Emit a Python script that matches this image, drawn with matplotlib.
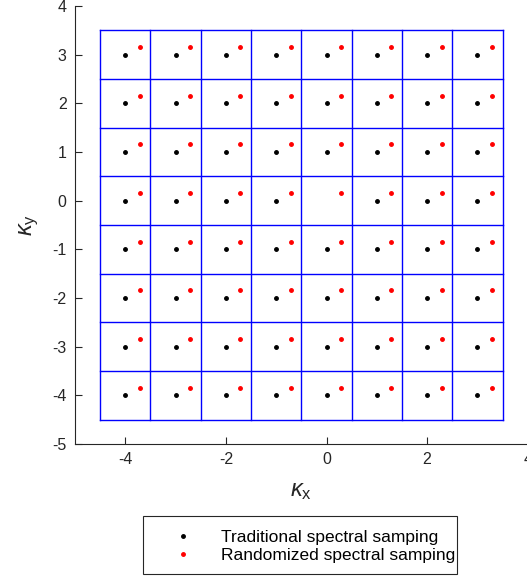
import numpy as np
import matplotlib
matplotlib.use("Agg")
import matplotlib.pyplot as plt
from matplotlib.patches import Rectangle

plt.rcParams['font.family'] = ['Liberation Sans', 'DejaVu Sans']
plt.rcParams['axes.unicode_minus'] = False
plt.rcParams['mathtext.fontset'] = 'custom'
plt.rcParams['mathtext.rm'] = 'Liberation Sans'
plt.rcParams['mathtext.it'] = 'Liberation Sans:italic'

# Traditional sampling grid (integer lattice, origin excluded)
trad_x = [-4, -3, -2, -1, 0, 1, 2, 3]
trad_y = [-4, -3, -2, -1, 0, 1, 2, 3]
# Randomized sampling positions
rand_x = [-3.71, -2.71, -1.71, -0.71, 0.29, 1.29, 2.29, 3.29]
rand_y = [-3.84, -2.84, -1.84, -0.84, 0.16, 1.16, 2.16, 3.16]
# Cell boundaries
cell_edges = [-4.5, -3.5, -2.5, -1.5, -0.5, 0.5, 1.5, 2.5, 3.5]

x_ticks = [-4, -2, 0, 2, 4]
y_ticks = [-5, -4, -3, -2, -1, 0, 1, 2, 3, 4]

W, H = 527, 579
fig = plt.figure(figsize=(W/100, H/100), dpi=100)
ax = fig.add_axes([75/W, 1-444/H, 452.7/W, 438/H])

for e in cell_edges:
    ax.plot([e, e], [cell_edges[0], cell_edges[-1]], color='#0000ff', lw=1.0, zorder=1)
    ax.plot([cell_edges[0], cell_edges[-1]], [e, e], color='#0000ff', lw=1.0, zorder=1)

TX, TY = np.meshgrid(trad_x, trad_y)
mask = ~((TX == 0) & (TY == 0))
ax.plot(TX[mask], TY[mask], 'o', color='black', ms=2.5, ls='none', zorder=3,
        label='Traditional spectral samping')
RX, RY = np.meshgrid(rand_x, rand_y)
ax.plot(RX.ravel(), RY.ravel(), 'o', color='red', ms=2.5, ls='none', zorder=3,
        label='Randomized spectral samping')

ax.set_xlim(-5, 4)
ax.set_ylim(-5, 4)
ax.set_xticks(x_ticks)
ax.set_yticks(y_ticks)
for s in ['top', 'right']:
    ax.spines[s].set_visible(False)
for s in ['left', 'bottom']:
    ax.spines[s].set_color('#262626')
    ax.spines[s].set_linewidth(0.8)
ax.tick_params(direction='in', length=5, width=0.8, colors='#262626',
               labelsize=11.5, labelcolor='#262626', pad=6)

ax.set_xlabel(r'$\kappa_{\mathrm{x}}$', fontsize=17, color='#262626', labelpad=9)
ax.set_ylabel(r'$\kappa_{\mathrm{y}}$', fontsize=17, color='#262626', labelpad=8)

leg = fig.legend(loc='center left', bbox_to_anchor=(134/W, 1-546.5/H), fontsize=12.5,
                 frameon=False, handlelength=4.0, handletextpad=0.15,
                 borderpad=0.35, labelspacing=0.12)

fig.add_artist(Rectangle((143/W, 1-574/H), (457-143)/W, (574-516)/H,
                         transform=fig.transFigure, fill=False,
                         edgecolor='#262626', lw=0.8))

fig.savefig('out.png', dpi=100)
